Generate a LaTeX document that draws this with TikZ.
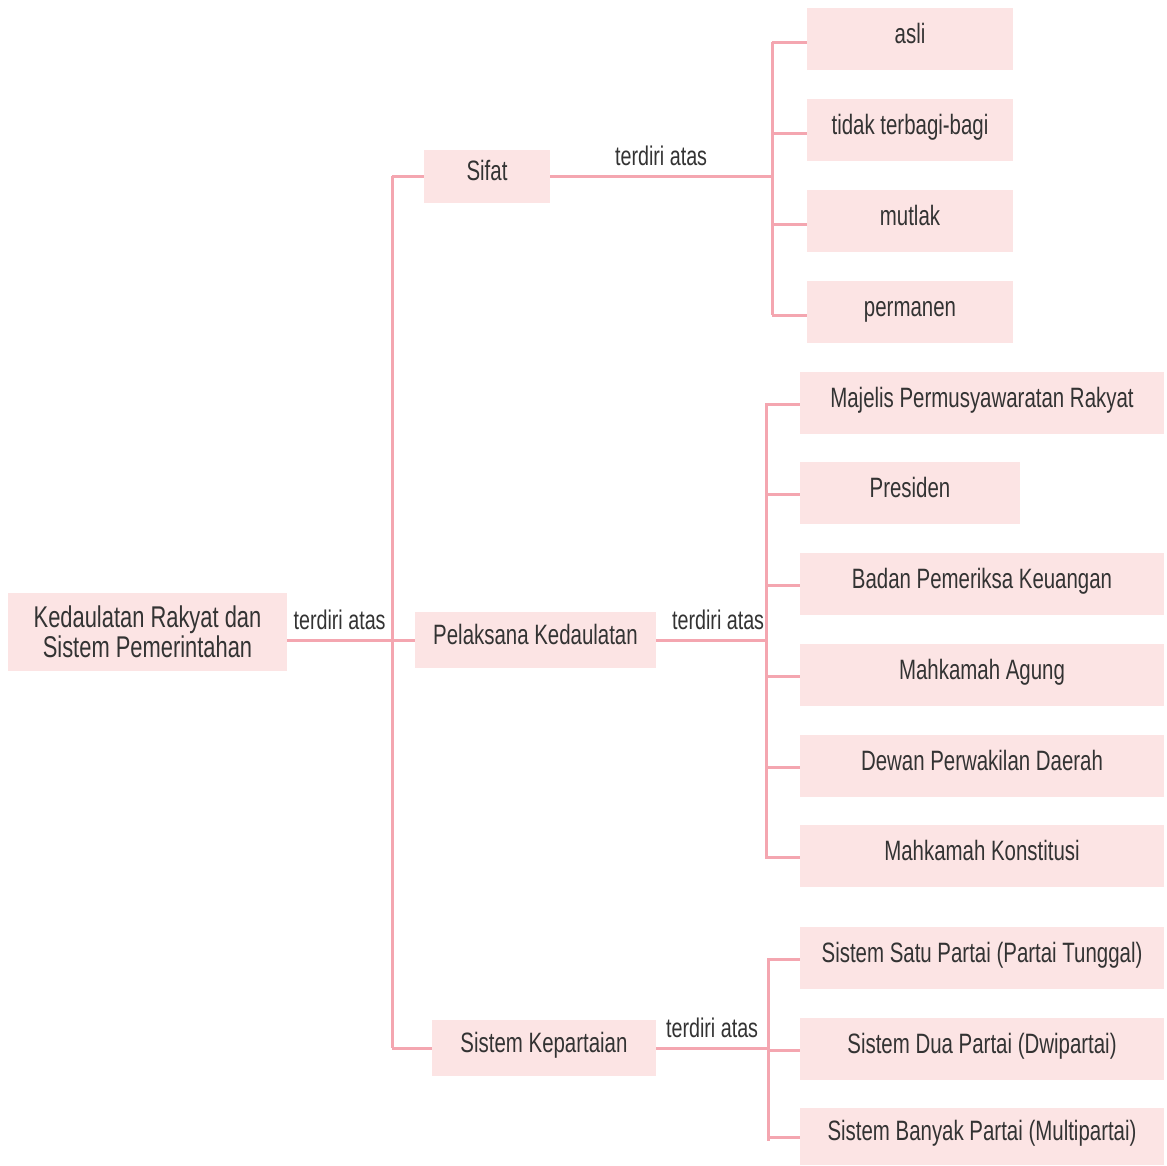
\documentclass[tikz,border=0pt]{standalone}
\usepackage{fontspec}
\setmainfont{Liberation Sans}[FakeStretch=0.73]
\usepackage{tikz}
\usepackage{xcolor}
\definecolor{boxpink}{HTML}{FCE4E4}
\definecolor{linepink}{HTML}{F4A6B0}
\definecolor{textgray}{HTML}{333333}
\tikzstyle{box} = [fill=boxpink,text=textgray,inner sep=0pt,minimum height=62pt,align=center,font=\fontsize{28}{30}\selectfont]
\tikzstyle{raised} = [text height=20pt,text depth=12pt]
\tikzstyle{link} = [draw=linepink,line width=3pt]
\tikzstyle{lbl} = [text=textgray,font=\fontsize{27}{30}\selectfont]

\begin{document}
\begin{tikzpicture}[x=1pt,y=-1pt]
  \useasboundingbox (0,0) rectangle (1167,1165);
  % main branches
  \node[box,minimum width=279pt,minimum height=78pt,font=\fontsize{30}{30}\selectfont] (root) at (147.5,632) {Kedaulatan Rakyat dan\\Sistem Pemerintahan};
  \node[box,raised,minimum width=126pt,minimum height=53pt] (sifat) at (487,176) {Sifat};
  \node[box,raised,minimum width=241pt,minimum height=56pt] (pk) at (535.5,640) {Pelaksana Kedaulatan};
  \node[box,raised,minimum width=224pt,minimum height=56pt] (partai) at (544,1048) {Sistem Kepartaian};
  % leaves
  \foreach \name/\y/\txt in {a1/39/asli,a2/130/tidak terbagi-bagi,a3/221/mutlak,a4/312/permanen}
    \node[box,raised,minimum width=206pt] (\name) at (910,\y) {\txt};
  \foreach \name/\y/\txt in {b1/403/Majelis Permusyawaratan Rakyat,b3/584/Badan Pemeriksa Keuangan,b4/675/Mahkamah Agung,b5/766/Dewan Perwakilan Daerah,b6/856/Mahkamah Konstitusi}
    \node[box,raised,minimum width=364pt] (\name) at (982,\y) {\txt};
  \node[box,raised,minimum width=220pt] (b2) at (910,493) {Presiden};
  \foreach \name/\y/\txt in {c1/958/Sistem Satu Partai (Partai Tunggal),c2/1049/Sistem Dua Partai (Dwipartai)}
    \node[box,raised,minimum width=364pt] (\name) at (982,\y) {\txt};
  \node[box,raised,minimum width=364pt,minimum height=57pt] (c3) at (982,1136.5) {Sistem Banyak Partai (Multipartai)};
  \coordinate (t0) at (392,0);
  \coordinate (t1) at (772,0);
  \coordinate (t2) at (766,0);
  \coordinate (t3) at (768,0);
  % connectors
  \draw[link] (root.east |- pk.west) -- node[lbl,above=5pt] {terdiri atas} (t0 |- pk.west) -- (pk.west);
  \draw[link] (sifat.west -| t0) -- (sifat.west) (partai.west -| t0) -- (partai.west)
    (sifat.west -| t0) -- (partai.west -| t0);
  \draw[link] (sifat.east) -- node[lbl,above=5pt] {terdiri atas} (sifat.east -| t1);
  \draw[link] (pk.east) -- node[lbl,above=5pt,xshift=7pt] {terdiri atas} (pk.east -| t2);
  \draw[link] (partai.east) -- node[lbl,above=5pt] {terdiri atas} (partai.east -| t3);
  \draw[link] ([yshift=-3pt]a1.west -| t1) -- ([yshift=-3pt]a4.west -| t1);
  \draw[link] (b1.west -| t2) -- ([yshift=-3pt]b6.west -| t2);
  \draw[link] (c1.west -| t3) -- ([yshift=-4pt]c3.west -| t3);
  \foreach \n in {a1,a2,a3,a4}
    \draw[link] ([yshift=-3pt]\n.west -| t1) -- ([yshift=-3pt]\n.west);
  \foreach \n in {b1,b2,b3,b4,b5,b6}
    \draw[link] ([yshift=-1pt]\n.west -| t2) -- ([yshift=-1pt]\n.west);
  \foreach \n in {c1,c2,c3}
    \draw[link] ([yshift=-1pt]\n.west -| t3) -- ([yshift=-1pt]\n.west);
\end{tikzpicture}
\end{document}
